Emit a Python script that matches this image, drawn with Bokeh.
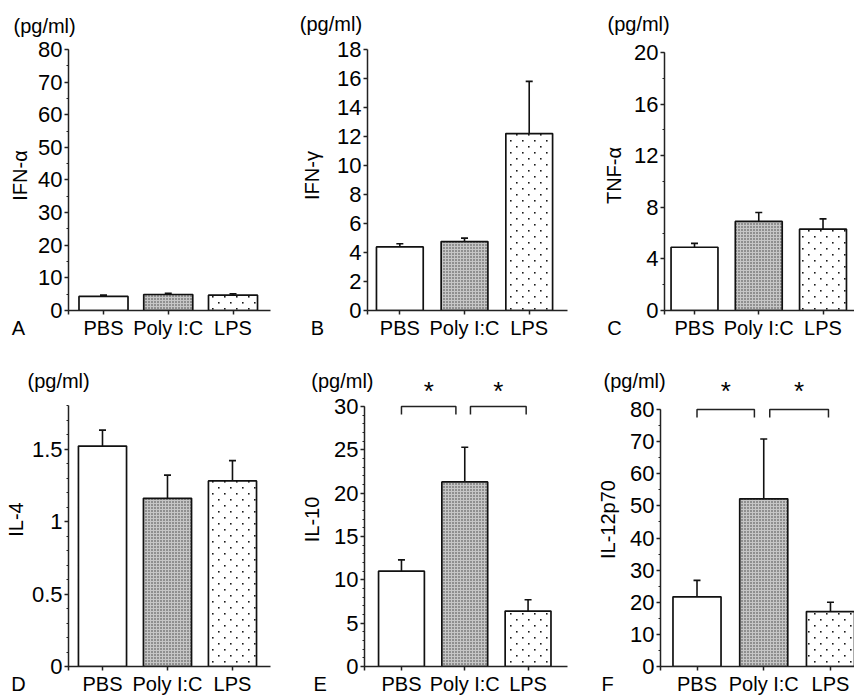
import zlib
import struct
import base64

from bokeh.plotting import figure
from bokeh.layouts import row, column
from bokeh.models import (Range1d, FixedTicker, Whisker, TeeHead, Label,
                          ColumnDataSource, NumeralTickFormatter, ImageURLTexture)
from bokeh.embed import file_html
from bokeh.resources import INLINE
from bokeh.core.properties import value

# ---------------- data ----------------
categories = ["PBS", "Poly I:C", "LPS"]

ifn_a_mean = [4.3, 4.9, 4.7]
ifn_a_sem = [0.4, 0.4, 0.4]
ifn_g_mean = [4.38, 4.75, 12.2]
ifn_g_sem = [0.22, 0.24, 3.6]
tnf_a_mean = [4.9, 6.9, 6.3]
tnf_a_sem = [0.3, 0.7, 0.8]
il4_mean = [1.52, 1.16, 1.28]
il4_sem = [0.11, 0.16, 0.14]
il10_mean = [11.0, 21.3, 6.4]
il10_sem = [1.3, 4.0, 1.3]
il12_mean = [21.7, 52.2, 17.1]
il12_sem = [5.1, 18.6, 2.9]

panel_letters = ["A", "B", "C", "D", "E", "F"]
cytokines = ["IFN-α", "IFN-γ", "TNF-α", "IL-4", "IL-10", "IL-12p70"]
unit_text = "(pg/ml)"
axis_max = [80, 18, 20, 1.8, 30, 80]
major_step = [10, 2, 4, 0.5, 5, 10]
minor_step = [5, None, 2, 0.1, 1, 5]
sig_pairs = {4: [(0, 1), (1, 2)], 5: [(0, 1), (1, 2)]}
sig_mark = "*"

means = [ifn_a_mean, ifn_g_mean, tnf_a_mean, il4_mean, il10_mean, il12_mean]
sems = [ifn_a_sem, ifn_g_sem, tnf_a_sem, il4_sem, il10_sem, il12_sem]

# ---------------- layout / style ----------------
FONT = "Liberation Sans"
XLAB_PX = 20
LAYOUT = [
    dict(fx=0, fy=0, fw=298, fh=341, fl=68, fr=270, ft=40, fb=312, atp=49, xr=(0.4595, 3.579), bw=0.757,
         unit=(13, 25), letter_left=10),
    dict(fx=298, fy=0, fw=292, fh=341, fl=366, fr=567, ft=40, fb=312, atp=49, xr=(0.5, 3.592), bw=0.723,
         unit=(298, 23), letter_left=309),
    dict(fx=590, fy=0, fw=264, fh=341, fl=664, fr=854, ft=40, fb=312, atp=52, xr=(0.533, 3.490), bw=0.73,
         unit=(607, 23), letter_left=607),
    dict(fx=0, fy=341, fw=298, fh=356, fl=68, fr=270, ft=372, fb=666, atp=405, xr=(0.477, 3.585), bw=0.74,
         unit=(27, 380), letter_left=10),
    dict(fx=298, fy=341, fw=292, fh=356, fl=361, fr=567, ft=372, fb=666, atp=406, xr=(0.416, 3.623), bw=0.724,
         unit=(307, 380), letter_left=310),
    dict(fx=590, fy=341, fw=264, fh=356, fl=660, fr=854, ft=372, fb=666, atp=409, xr=(0.453, 3.36), bw=0.72,
         unit=(603, 380), letter_left=602),
]
LABEL_STANDOFF = [4, 11, 6, 2, 8, 8]
LETTER_W = {"A": 0.667, "B": 0.667, "C": 0.722, "D": 0.722, "E": 0.667, "F": 0.611}
NBSP_W = 0.278


def _png_tile(w, h, dots, rgb=(25, 25, 25)):
    """Small transparent RGBA tile with a few dark pixels (a fill texture)."""
    px = [[(255, 255, 255, 0)] * w for _ in range(h)]
    for (cx, cy, a) in dots:
        px[cy][cx] = (rgb[0], rgb[1], rgb[2], a)
    raw = b"".join(b"\x00" + bytes(v for p in r for v in p) for r in px)

    def chunk(t, d):
        return struct.pack(">I", len(d)) + t + d + struct.pack(">I", zlib.crc32(t + d) & 0xffffffff)

    data = (b"\x89PNG\r\n\x1a\n" + chunk(b"IHDR", struct.pack(">IIBBBBB", w, h, 8, 6, 0, 0, 0))
            + chunk(b"IDAT", zlib.compress(raw)) + chunk(b"IEND", b""))
    return "data:image/png;base64," + base64.b64encode(data).decode()


# sparse staggered dots (LPS bars)
SPARSE_TILE = _png_tile(12, 12, [(2, 2, 255), (3, 2, 150), (2, 3, 150), (3, 3, 90),
                                 (8, 8, 255), (9, 8, 150), (8, 9, 150), (9, 9, 90)])

# fill styles: plain white, dense dark screen on grey, sparse staggered dots
FILLS = ["white", "#c6c6c6", "white"]
HATCH = [" ", ".", "sparse_dots"]
HATCH_SCALE = [4, 3, 12]
HATCH_WEIGHT = [0.5, 0.6, 1.0]
HATCH_COLOR = ["white", "#3a3a3a", "#1a1a1a"]


def make_panel(i):
    L = LAYOUT[i]
    ymax = axis_max[i]
    ppu = (L["fb"] - L["atp"]) / ymax
    y_end = (L["fb"] - L["ft"]) / ppu
    x0, x1 = L["xr"]

    def dx(px):
        return x0 + (px - L["fl"]) / (L["fr"] - L["fl"]) * (x1 - x0)

    def dy(py):
        return (L["fb"] - py) / (L["fb"] - L["ft"]) * y_end

    p = figure(width=L["fw"], height=L["fh"], output_backend="svg", toolbar_location=None,
               x_range=Range1d(x0, x1), y_range=Range1d(0, y_end),
               min_border_left=L["fl"] - L["fx"], min_border_right=L["fx"] + L["fw"] - L["fr"],
               min_border_top=L["ft"] - L["fy"], min_border_bottom=L["fy"] + L["fh"] - L["fb"],
               outline_line_color=None, background_fill_color="white", border_fill_color="white")
    p.grid.visible = False

    xs = [k + 1 for k in range(len(categories))]
    m = means[i]
    s = sems[i]
    src = ColumnDataSource(dict(x=xs, top=m, upper=[a + b for a, b in zip(m, s)],
                                fill=FILLS, hatch=HATCH, hscale=HATCH_SCALE, hweight=HATCH_WEIGHT,
                                hcolor=HATCH_COLOR))
    p.vbar(x="x", top="top", bottom=0, width=L["bw"], source=src,
           fill_color="fill", line_color="#111111", line_width=1.7,
           hatch_pattern="hatch", hatch_scale="hscale", hatch_color="hcolor", hatch_weight="hweight",
           hatch_extra={"sparse_dots": ImageURLTexture(url=SPARSE_TILE, repetition="repeat")})
    w = Whisker(source=src, base="x", lower="top", upper="upper", dimension="height",
                line_color="#111111", line_width=1.6,
                upper_head=TeeHead(size=7, line_color="#111111", line_width=1.6), lower_head=None)
    p.add_layout(w)

    # x axis (the panel letter rides on an extra tick at the left end of the axis)
    letter = panel_letters[i]
    half = L["fl"] - L["letter_left"]
    n_pad = max(0, int(round((2 * half - LETTER_W[letter] * XLAB_PX) / (NBSP_W * XLAB_PX))))
    letter_tick = x0 + 1e-9
    xa = p.xaxis[0]
    xa.ticker = FixedTicker(ticks=[letter_tick] + xs)
    overrides = {x: c for x, c in zip(xs, categories)}
    overrides[letter_tick] = letter + "\u00a0" * n_pad
    xa.major_label_overrides = overrides
    xa.major_tick_out = 4
    xa.major_tick_in = 0
    xa.minor_tick_out = 0
    xa.major_label_standoff = 2
    xa.major_label_text_font = FONT
    xa.major_label_text_font_size = f"{XLAB_PX}px"
    xa.major_label_text_color = "black"
    xa.axis_line_width = 1.5
    xa.axis_line_color = "#222222"
    xa.major_tick_line_width = 1.5
    xa.major_tick_line_color = "#222222"

    # y axis
    ya = p.yaxis[0]
    st = major_step[i]
    n = int(ymax / st + 1e-9)
    majors = [round(k * st, 6) for k in range(n + 1)]
    minors = []
    if minor_step[i]:
        mn = int(ymax / minor_step[i] + 1e-9)
        minors = [round(k * minor_step[i], 6) for k in range(mn + 1)]
    ya.ticker = FixedTicker(ticks=majors, minor_ticks=minors)
    ya.formatter = NumeralTickFormatter(format="0.[0]")
    ya.bounds = (0, ymax)
    ya.major_tick_out = 4
    ya.major_tick_in = 0
    ya.minor_tick_out = 2
    ya.minor_tick_in = 0
    ya.major_label_standoff = 2
    ya.major_label_text_font = FONT
    ya.major_label_text_font_size = "22px"
    ya.major_label_text_color = "black"
    ya.axis_line_width = 1.5
    ya.axis_line_color = "#222222"
    ya.major_tick_line_width = 1.5
    ya.major_tick_line_color = "#222222"
    ya.minor_tick_line_width = 1.2
    ya.minor_tick_line_color = "#222222"
    ya.axis_label = cytokines[i]
    ya.axis_label_text_font = FONT
    ya.axis_label_text_font_size = "20px"
    ya.axis_label_text_font_style = "normal"
    ya.axis_label_text_color = "black"
    ya.axis_label_standoff = LABEL_STANDOFF[i]

    # unit label, placed in the side panel above the frame
    ux, uy = L["unit"]
    p.add_layout(Label(x=dx(ux), y=dy(uy), text=unit_text, text_font=FONT, text_font_size="20px",
                       text_align="left", text_baseline="middle", text_color="black"), "above")

    # significance brackets
    if i in sig_pairs:
        drop = 8 / ppu
        bx, by, sx, sy = [], [], [], []
        for (a, b) in sig_pairs[i]:
            left = xs[a] + (0.09 if a == 1 else 0.0)
            right = xs[b] - (0.14 if b == 1 else 0.03)
            bx.append([left, left, right, right])
            by.append([ymax - drop, ymax, ymax, ymax - drop])
            sx.append((left + right) / 2)
            sy.append(dy(390))
        p.multi_line(xs=bx, ys=by, line_color="#222222", line_width=1.5)
        p.text(x=sx, y=sy, text=[sig_mark] * len(sx), text_font=value(FONT), text_font_size="26px",
               text_align="center", text_baseline="alphabetic", text_color="black")
    return p


figs = [make_panel(i) for i in range(6)]
layout = column(row(figs[0], figs[1], figs[2]), row(figs[3], figs[4], figs[5]))
open("out.html", "w").write(file_html(layout, INLINE))
